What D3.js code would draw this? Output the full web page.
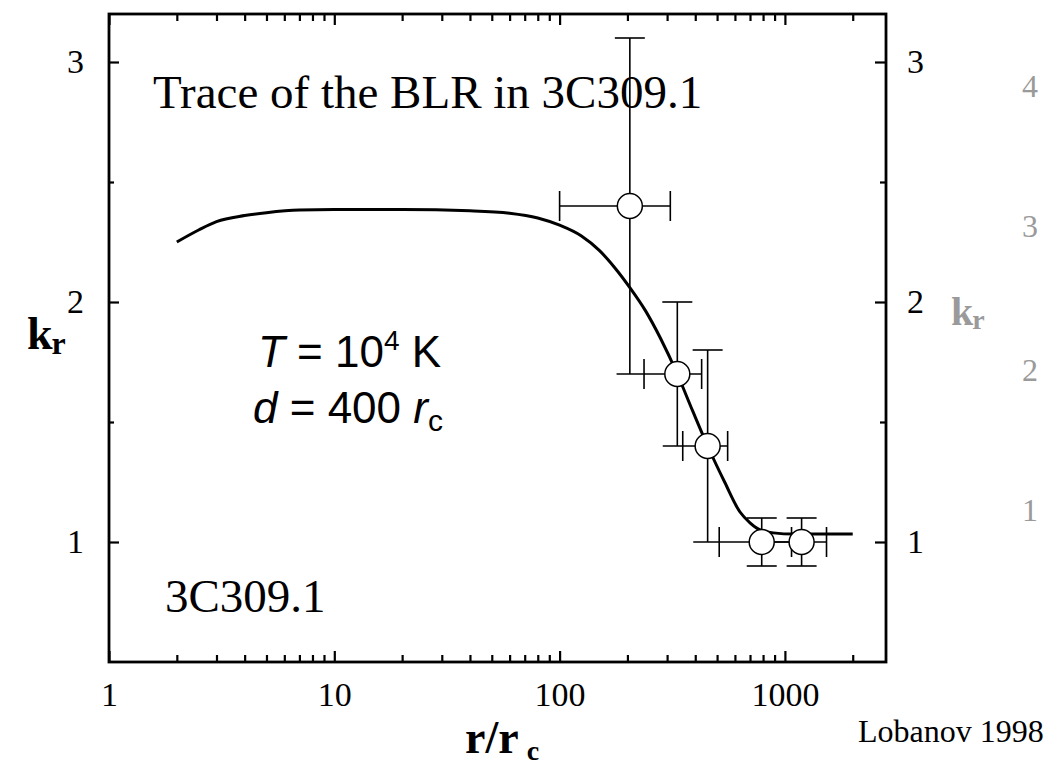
<!DOCTYPE html>
<html>
<head>
<meta charset="utf-8">
<script src="https://cdn.jsdelivr.net/npm/d3@7"></script>
<style>
  html, body { margin: 0; padding: 0; background: #fff; }
  svg { display: block; }
  .serif { font-family: "Liberation Serif", "Times New Roman", serif; }
  .sans { font-family: "Liberation Sans", Arial, sans-serif; }
</style>
</head>
<body>
<svg id="chart" width="1049" height="767"></svg>
<script>
// Model curve k_r(r/r_c): T = 1e4 K, d = 400 r_c
const curveR = [2, 2.5, 3, 4, 5, 7, 10, 20, 40, 60, 80, 100, 125, 150, 175, 205, 240, 280, 333, 390, 454, 540, 632, 700, 753, 888, 1100, 2000];
const curveK = [2.25, 2.30, 2.335, 2.36, 2.372, 2.383, 2.385, 2.385, 2.38, 2.37, 2.35, 2.32, 2.275, 2.215, 2.145, 2.06, 1.965, 1.85, 1.70, 1.545, 1.40, 1.25, 1.125, 1.08, 1.057, 1.038, 1.033, 1.033];

// Measured core-shift points with error bars
const pointR = [205, 333, 454, 789, 1186];
const pointK = [2.4, 1.7, 1.4, 1.0, 1.0];
const kHigh = [3.1, 2.0, 1.8, 1.1, 1.1];
const kLow = [1.7, 1.4, 1.0, 0.9, 0.9];
const kLowCap = [false, false, false, true, true];
const rLineLow = [100, 179, 287, 392, 880];
const rCapLow = [100, 237, 352, 511, null];
const rCapHigh = [310, 427, 557, 1070, 1530];

// Axis ticks
const xMajorTicks = [1, 10, 100, 1000];
const xMinorTicks = [2, 3, 4, 5, 6, 7, 8, 9, 20, 30, 40, 50, 60, 70, 80, 90, 200, 300, 400, 500, 600, 700, 800, 900, 2000];
const yMajorTicks = [1, 2, 3];
const yMinorTicks = [1.5, 2.5];
const ghostLabels = ["4", "3", "2", "1"];

const svg = d3.select("#chart");
const plotLeft = 109, plotRight = 886, plotTop = 14, plotBottom = 662;

const x = d3.scaleLog().domain([1, 2810]).range([plotLeft, plotRight]);
const y = d3.scaleLinear().domain([0.5, 3.2]).range([plotBottom, plotTop]);

// Tick marks on all four sides, pointing inward
function ticks(axisFn, scale, values, size, pad, fmt, transform) {
  const g = svg.append("g").attr("transform", transform)
    .call(axisFn(scale).tickValues(values).tickSize(-size).tickPadding(pad).tickFormat(fmt));
  g.select(".domain").remove();
  g.selectAll(".tick line").attr("stroke", "#000").attr("stroke-width", 2.2);
  g.selectAll(".tick text").attr("class", "serif").attr("fill", "#000").style("font-size", "34px");
  return g;
}
const noLabel = () => "";
ticks(d3.axisBottom, x, xMajorTicks, 11, 20, d3.format("d"), `translate(0,${plotBottom})`);
ticks(d3.axisBottom, x, xMinorTicks, 7, 0, noLabel, `translate(0,${plotBottom})`);
ticks(d3.axisTop, x, xMajorTicks, 11, 0, noLabel, `translate(0,${plotTop})`);
ticks(d3.axisTop, x, xMinorTicks, 7, 0, noLabel, `translate(0,${plotTop})`);
ticks(d3.axisLeft, y, yMajorTicks, 10, 25, d3.format("d"), `translate(${plotLeft},0)`);
ticks(d3.axisLeft, y, yMinorTicks, 5, 0, noLabel, `translate(${plotLeft},0)`);
ticks(d3.axisRight, y, yMajorTicks, 11, 21, d3.format("d"), `translate(${plotRight},0)`);
ticks(d3.axisRight, y, yMinorTicks, 6, 0, noLabel, `translate(${plotRight},0)`);

// Frame
svg.append("rect")
  .attr("x", plotLeft).attr("y", plotTop)
  .attr("width", plotRight - plotLeft).attr("height", plotBottom - plotTop)
  .attr("fill", "none").attr("stroke", "#000").attr("stroke-width", 2.8);

// Model curve
const curveData = curveR.map((r, i) => [r, curveK[i]]);
svg.append("path")
  .datum(curveData)
  .attr("fill", "none").attr("stroke", "#000").attr("stroke-width", 3)
  .attr("d", d3.line().x(d => x(d[0])).y(d => y(d[1])).curve(d3.curveMonotoneX));

// Error bars
const capHalf = 15;
const eb = svg.append("g").attr("stroke", "#000").attr("stroke-width", 1.6).attr("fill", "none");
pointR.forEach((r, i) => {
  const px = x(r), py = y(pointK[i]);
  eb.append("line").attr("x1", px).attr("x2", px).attr("y1", y(kHigh[i])).attr("y2", y(kLow[i]));
  eb.append("line").attr("x1", px - capHalf).attr("x2", px + capHalf).attr("y1", y(kHigh[i])).attr("y2", y(kHigh[i]));
  if (kLowCap[i]) {
    eb.append("line").attr("x1", px - capHalf).attr("x2", px + capHalf).attr("y1", y(kLow[i])).attr("y2", y(kLow[i]));
  }
  eb.append("line").attr("x1", x(rLineLow[i])).attr("x2", x(rCapHigh[i])).attr("y1", py).attr("y2", py);
  if (rCapLow[i] !== null) {
    eb.append("line").attr("x1", x(rCapLow[i])).attr("x2", x(rCapLow[i])).attr("y1", py - capHalf).attr("y2", py + capHalf);
  }
  eb.append("line").attr("x1", x(rCapHigh[i])).attr("x2", x(rCapHigh[i])).attr("y1", py - capHalf).attr("y2", py + capHalf);
});

// Open circles
svg.append("g").selectAll("circle")
  .data(pointR)
  .join("circle")
  .attr("cx", d => x(d))
  .attr("cy", (d, i) => y(pointK[i]))
  .attr("r", 12.5)
  .attr("fill", "#fff").attr("stroke", "#000").attr("stroke-width", 1.5);

// Annotations
svg.append("text").attr("class", "serif").attr("x", 153).attr("y", 108)
  .style("font-size", "47px").text("Trace of the BLR in 3C309.1");
svg.append("text").attr("class", "serif").attr("x", 165).attr("y", 612)
  .style("font-size", "47px").text("3C309.1");

const tLine = svg.append("text").attr("class", "sans").attr("x", 258).attr("y", 367).style("font-size", "44px");
tLine.append("tspan").style("font-style", "italic").text("T");
tLine.append("tspan").text(" = 10");
tLine.append("tspan").attr("dy", -17).style("font-size", "28px").text("4");
tLine.append("tspan").attr("dy", 17).text(" K");

const dLine = svg.append("text").attr("class", "sans").attr("x", 253).attr("y", 423).style("font-size", "44px");
dLine.append("tspan").style("font-style", "italic").text("d");
dLine.append("tspan").text(" = 400 ");
dLine.append("tspan").style("font-style", "italic").text("r");
dLine.append("tspan").attr("dy", 8).style("font-size", "30px").text("c");

// Axis titles
const xTitle = svg.append("text").attr("class", "serif").attr("x", 465).attr("y", 753)
  .style("font-size", "46px").style("font-weight", "bold");
xTitle.append("tspan").text("r/r");
xTitle.append("tspan").attr("dx", 8).attr("dy", 7).style("font-size", "28px").text("c");

const yTitle = svg.append("text").attr("class", "serif").attr("x", 27).attr("y", 349)
  .style("font-size", "46px").style("font-weight", "bold");
yTitle.append("tspan").text("k");
yTitle.append("tspan").attr("dx", -1).attr("dy", 5).style("font-size", "32px").text("r");

// Secondary faint scale on the far right
const ghostY = [86, 226, 370, 510];
svg.append("g").selectAll("text")
  .data(ghostLabels)
  .join("text")
  .attr("class", "serif")
  .attr("x", 1030).attr("y", (d, i) => ghostY[i]).attr("dy", "0.35em")
  .attr("text-anchor", "middle")
  .attr("fill", "#9a9a9a")
  .style("font-size", "32px")
  .text(d => d);
const ghostTitle = svg.append("text").attr("class", "serif").attr("x", 951).attr("y", 325)
  .attr("fill", "#9a9a9a").style("font-size", "40px").style("font-weight", "bold");
ghostTitle.append("tspan").text("k");
ghostTitle.append("tspan").attr("dx", -1).attr("dy", 4).style("font-size", "28px").text("r");

svg.append("text").attr("class", "serif").attr("x", 858).attr("y", 742)
  .style("font-size", "32px").text("Lobanov 1998");
</script>
</body>
</html>
